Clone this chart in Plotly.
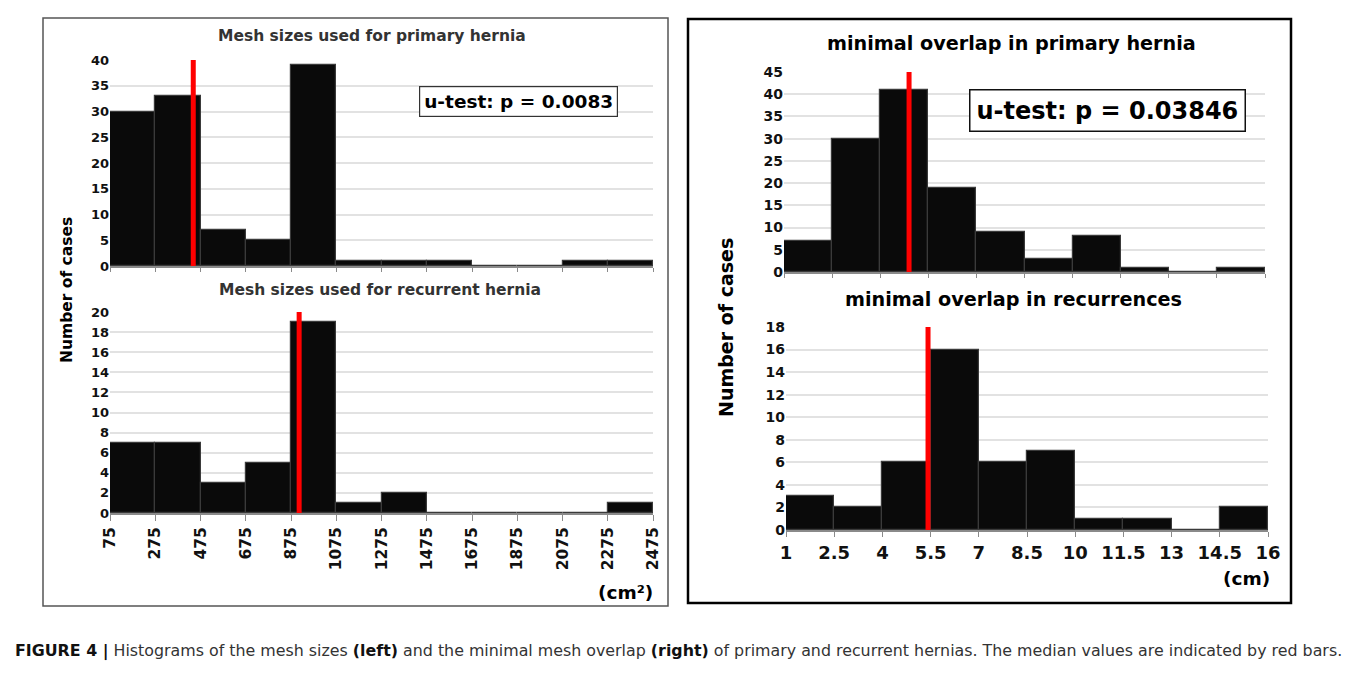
import plotly.graph_objects as go

# page body adds an 8px margin around the figure; figure sized so it fits the 1357x678 window
PAGE_W, PAGE_H = 1357, 678
OFF = 8
W, H = PAGE_W - OFF, PAGE_H - OFF

# ---------------- data ----------------
mesh_edges = [75, 275, 475, 675, 875, 1075, 1275, 1475, 1675, 1875, 2075, 2275, 2475]
mesh_primary_counts = [30, 33, 7, 5, 39, 1, 1, 1, 0, 0, 1, 1]
mesh_recurrent_counts = [7, 7, 3, 5, 19, 1, 2, 0, 0, 0, 0, 1]
mesh_primary_median = 443
mesh_recurrent_median = 911

overlap_edges = [1, 2.5, 4, 5.5, 7, 8.5, 10, 11.5, 13, 14.5, 16]
overlap_edge_labels = ["1", "2.5", "4", "5.5", "7", "8.5", "10", "11.5", "13", "14.5", "16"]
overlap_primary_counts = [7, 30, 41, 19, 9, 3, 8, 1, 0, 1]
overlap_recurrent_counts = [3, 2, 6, 16, 6, 7, 1, 1, 0, 2]
overlap_primary_median = 4.9
overlap_recurrent_median = 5.42

titles = ["Mesh sizes used for primary hernia", "Mesh sizes used for recurrent hernia",
          "minimal overlap in primary hernia", "minimal overlap in recurrences"]
utest_left = "u-test: p = 0.0083"
utest_right = "u-test: p = 0.03846"
caption = ("<b style='color:#111'>FIGURE 4 |</b> Histograms of the mesh sizes <b style='color:#111'>(left)</b> "
           "and the minimal mesh overlap <b style='color:#111'>(right)</b> of primary and recurrent hernias. "
           "The median values are indicated by red bars.")


def fx(px):
    return (px - OFF) / W


def fy(py):
    return 1 - (py - OFF) / H


DV = "DejaVu Sans, Verdana, sans-serif"

fig = go.Figure()

panels = [
    dict(edges=mesh_edges, counts=mesh_primary_counts, med=mesh_primary_median, ymax=40, dtick=5,
         xd=(110, 653), yd=(266, 60), ax="", tickfs=13),
    dict(edges=mesh_edges, counts=mesh_recurrent_counts, med=mesh_recurrent_median, ymax=20, dtick=2,
         xd=(110, 653), yd=(513, 312), ax="2", tickfs=13),
    dict(edges=overlap_edges, counts=overlap_primary_counts, med=overlap_primary_median, ymax=45, dtick=5,
         xd=(784, 1265), yd=(272, 72), ax="3", tickfs=14),
    dict(edges=overlap_edges, counts=overlap_recurrent_counts, med=overlap_recurrent_median, ymax=18, dtick=2,
         xd=(786, 1268), yd=(530, 327), ax="4", tickfs=14),
]

layout_axes = {}
for i, p in enumerate(panels):
    e = p["edges"]
    centers = [(e[k] + e[k + 1]) / 2 for k in range(len(e) - 1)]
    widths = [e[k + 1] - e[k] for k in range(len(e) - 1)]
    xa = "x" + p["ax"]
    ya = "y" + p["ax"]
    fig.add_trace(go.Bar(x=centers, y=p["counts"], width=widths, xaxis=xa, yaxis=ya,
                         marker=dict(color="#0a0a0a", line=dict(color="#3a3a3a", width=1.2)),
                         showlegend=False))
    fig.add_trace(go.Scatter(x=[p["med"], p["med"]], y=[0, p["ymax"]], mode="lines",
                             line=dict(color="#ff0000", width=5), xaxis=xa, yaxis=ya,
                             showlegend=False))
    xkey = "xaxis" + p["ax"]
    ykey = "yaxis" + p["ax"]
    xaxis = dict(domain=[fx(p["xd"][0]), fx(p["xd"][1])], range=[e[0], e[-1]], automargin=False,
                 anchor=ya, showgrid=False, zeroline=False, showline=True,
                 linecolor="#8a8a8a", linewidth=2, ticks="outside", ticklen=4,
                 tickcolor="#8a8a8a", tickvals=e, showticklabels=False, fixedrange=True)
    if i == 1:
        xaxis.update(showticklabels=True, ticktext=[str(v) for v in e], tickangle=-90,
                     tickfont=dict(family=DV, size=15.5, color="#111", weight="bold"), ticklen=6)
    if i == 3:
        xaxis.update(showticklabels=True, ticktext=overlap_edge_labels, tickangle=0,
                     tickfont=dict(family=DV, size=18, color="#111", weight="bold"), ticklen=5)
    yaxis = dict(domain=[fy(p["yd"][0]), fy(p["yd"][1])], range=[0, p["ymax"]], automargin=False,
                 anchor=xa, dtick=p["dtick"], showgrid=True, gridcolor="#e2e2e2", gridwidth=1.5,
                 zeroline=False, showline=False, ticks="",
                 tickfont=dict(family=DV, size=p["tickfs"], color="#111", weight="bold"),
                 fixedrange=True)
    layout_axes[xkey] = xaxis
    layout_axes[ykey] = yaxis

fig.update_layout(**layout_axes)

annotations = [
    dict(x=fx(372), y=fy(36), text="<b>" + titles[0] + "</b>", font=dict(family=DV, size=15.5, color="#333")),
    dict(x=fx(380), y=fy(290), text="<b>" + titles[1] + "</b>", font=dict(family=DV, size=15.5, color="#333")),
    dict(x=fx(1011), y=fy(43), text="<b>" + titles[2] + "</b>", font=dict(family=DV, size=19.2, color="#000")),
    dict(x=fx(1013), y=fy(299), text="<b>" + titles[3] + "</b>", font=dict(family=DV, size=19.2, color="#000")),
    dict(x=fx(519), y=fy(101.5), text="<b>" + utest_left + "</b>", font=dict(family=DV, size=18.5, color="#000"),
         bordercolor="#333", borderwidth=1.2, borderpad=4, bgcolor="white"),
    dict(x=fx(1107), y=fy(110), text="<b>" + utest_right + "</b>", font=dict(family=DV, size=24, color="#000"),
         bordercolor="#111", borderwidth=1.5, borderpad=6, bgcolor="white"),
    dict(x=fx(67), y=fy(290), text="<b>Number of cases</b>", textangle=-90,
         font=dict(family=DV, size=15.5, color="#000")),
    dict(x=fx(726), y=fy(328), text="<b>Number of cases</b>", textangle=-90,
         font=dict(family=DV, size=19, color="#000")),
    dict(x=fx(625), y=fy(592), text="<b>(cm²)</b>", font=dict(family=DV, size=18.5, color="#000")),
    dict(x=fx(1246), y=fy(578), text="<b>(cm)</b>", font=dict(family=DV, size=18.5, color="#000")),
    dict(x=fx(13), y=fy(651), text=caption, xanchor="left",
         font=dict(family=DV, size=15.85, color="#333")),
]
for a in annotations:
    a.setdefault("xanchor", "center")
    a.update(xref="paper", yref="paper", yanchor="middle", showarrow=False)
fig.update_layout(annotations=annotations)

shapes = [
    dict(type="rect", x0=fx(43), x1=fx(668), y0=fy(606), y1=fy(18), line=dict(color="#555", width=1.5)),
    dict(type="rect", x0=fx(688), x1=fx(1291), y0=fy(603), y1=fy(19), line=dict(color="#000", width=2.5)),
]
for s in shapes:
    s.update(xref="paper", yref="paper", layer="below")
fig.update_layout(shapes=shapes)

fig.update_layout(width=W, height=H, margin=dict(l=0, r=0, t=0, b=0, autoexpand=False),
                  paper_bgcolor="white", plot_bgcolor="white", bargap=0)

fig.write_html("out.html")
